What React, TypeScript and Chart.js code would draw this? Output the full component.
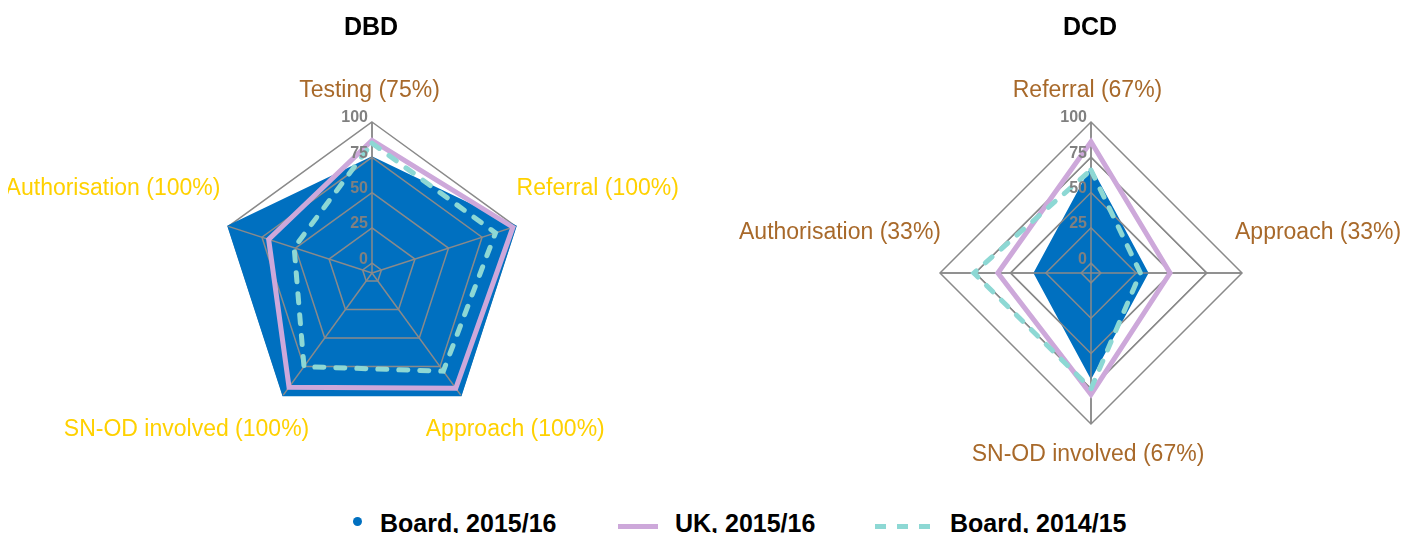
import React, { useEffect, useRef } from "react";
import { Chart, registerables } from "chart.js";

Chart.register(...registerables);

// ---------- data ----------
const seriesNames = ["Board, 2015/16", "UK, 2015/16", "Board, 2014/15"];
const chartTitles = ["DBD", "DCD"];
const tickValues = [0, 25, 50, 75, 100];

const dbdLabels = [
  "Testing (75%)",
  "Referral (100%)",
  "Approach (100%)",
  "SN-OD involved (100%)",
  "Authorisation (100%)",
];
const dbdBoard1516 = [75, 100, 100, 100, 100];
const dbdUK1516 = [87, 98, 94, 93, 70];
const dbdBoard1415 = [85, 85, 79, 75, 51];

const dcdLabels = [
  "Referral (67%)",
  "Approach (33%)",
  "SN-OD involved (67%)",
  "Authorisation (33%)",
];
const dcdBoard1516 = [67, 33, 67, 33];
const dcdUK1516 = [86, 49, 79, 59];
const dcdBoard1415 = [66, 28, 75, 76];

// ---------- styles ----------
const FONT = '"Liberation Sans", Arial, Helvetica, sans-serif';
const BLUE = "#0070C0";
const PURPLE = "#CDA8DA";
const CYAN = "#8DD8D4";
const GRID = "#8A8A8A";
const BROWN = "#A8692A";
const YELLOW = "#FFD100";

type Placement = { dx: number; dy: number; align: CanvasTextAlign };

const dbdPlacement: Placement[] = [
  { dx: -2.5, dy: -25, align: "center" },
  { dx: 1, dy: -31, align: "left" },
  { dx: -35, dy: 41, align: "left" },
  { dx: 26, dy: 41, align: "right" },
  { dx: -8, dy: -31, align: "right" },
];
const dbdLabelColors = [BROWN, YELLOW, YELLOW, YELLOW, YELLOW];

const dcdPlacement: Placement[] = [
  { dx: -3.5, dy: -25, align: "center" },
  { dx: -7, dy: -34, align: "left" },
  { dx: -3, dy: 37, align: "center" },
  { dx: 1, dy: -34, align: "right" },
];
const dcdLabelColors = [BROWN, BROWN, BROWN, BROWN];

type PanelProps = {
  title: string;
  labels: string[];
  board1516: number[];
  uk1516: number[];
  board1415: number[];
  placement: Placement[];
  labelColors: string[];
  left: number;
  width: number;
  height: number;
  padding: { left: number; right: number; top: number; bottom: number };
};

function RadarPanel(props: PanelProps) {
  const ref = useRef<HTMLCanvasElement>(null);
  useEffect(() => {
    const state = { overlay: false };
    const decor = {
      id: "decor",
      beforeDatasetDraw(chart: any, args: any) {
        if (args.index === 1) {
          const s = chart.scales.r;
          const ctx = chart.ctx;
          ctx.save();
          state.overlay = true;
          s.drawGrid();
          state.overlay = false;
          ctx.restore();
        }
      },
      afterDatasetsDraw(chart: any) {
        const s = chart.scales.r;
        const ctx = chart.ctx;
        ctx.save();
        ctx.font = `bold 16px ${FONT}`;
        ctx.fillStyle = "#808080";
        ctx.textAlign = "right";
        ctx.textBaseline = "middle";
        tickValues.forEach((v) => {
          const d = s.getDistanceFromCenterForValue(v);
          ctx.fillText(String(v), s.xCenter - 4, s.yCenter - d - 4);
        });
        ctx.restore();
      },
      afterDraw(chart: any) {
        const s = chart.scales.r;
        const ctx = chart.ctx;
        ctx.save();
        ctx.font = `bold 25px ${FONT}`;
        ctx.fillStyle = "#000";
        ctx.textAlign = "center";
        ctx.textBaseline = "alphabetic";
        ctx.fillText(props.title, s.xCenter - 1, 27);
        ctx.font = `23px ${FONT}`;
        props.labels.forEach((lab, i) => {
          const p = s.getPointPosition(i, s.drawingArea);
          const pl = props.placement[i];
          ctx.fillStyle = props.labelColors[i];
          ctx.textAlign = pl.align;
          ctx.fillText(lab, p.x + pl.dx, p.y + pl.dy);
        });
        ctx.restore();
      },
    };

    const chart = new Chart(ref.current!, {
      type: "radar",
      data: {
        labels: props.labels,
        datasets: [
          {
            label: seriesNames[0],
            data: props.board1516,
            backgroundColor: BLUE,
            borderColor: BLUE,
            borderWidth: 2,
            fill: "start",
            pointRadius: 0,
            order: 2,
          },
          {
            label: seriesNames[1],
            data: props.uk1516,
            borderColor: PURPLE,
            borderWidth: 5,
            fill: false,
            pointRadius: 0,
            borderJoinStyle: "miter",
            order: 1,
          },
          {
            label: seriesNames[2],
            data: props.board1415,
            borderColor: CYAN,
            borderWidth: 5,
            borderDash: [9, 12],
            borderCapStyle: "round",
            fill: false,
            pointRadius: 0,
            order: 0,
          },
        ],
      },
      options: {
        responsive: false,
        animation: false,
        events: [],
        layout: { padding: props.padding },
        elements: { line: { tension: 0 } },
        plugins: {
          legend: { display: false },
          title: { display: false },
          tooltip: { enabled: false },
        },
        scales: {
          r: {
            min: -7,
            max: 100,
            afterBuildTicks: (scale: any) => {
              scale.ticks = tickValues.map((v) => ({ value: v }));
            },
            ticks: { display: false },
            pointLabels: { display: false },
            grid: {
              color: (c: any) =>
                state.overlay && c.index === tickValues.length - 1
                  ? "rgba(0,0,0,0)"
                  : GRID,
              lineWidth: 1.5,
            },
            angleLines: { color: GRID, lineWidth: 1.5 },
          },
        },
      } as any,
      plugins: [decor],
    });
    return () => chart.destroy();
  }, []);
  return (
    <canvas
      ref={ref}
      width={props.width}
      height={props.height}
      style={{ position: "absolute", left: props.left, top: 0 }}
    />
  );
}

const legendText: React.CSSProperties = {
  position: "absolute",
  top: 503,
  fontFamily: FONT,
  fontWeight: "bold",
  fontSize: 25,
  lineHeight: "25px",
  color: "#000",
  whiteSpace: "nowrap",
};

export default function App() {
  return (
    <div style={{ position: "relative", width: 1402, height: 525 }}>
      <RadarPanel
        title={chartTitles[0]}
        labels={dbdLabels}
        board1516={dbdBoard1516}
        uk1516={dbdUK1516}
        board1415={dbdBoard1415}
        placement={dbdPlacement}
        labelColors={dbdLabelColors}
        left={0}
        width={710}
        height={480}
        padding={{ left: 213, right: 195, top: 114, bottom: 64 }}
      />
      <RadarPanel
        title={chartTitles[1]}
        labels={dcdLabels}
        board1516={dcdBoard1516}
        uk1516={dcdUK1516}
        board1415={dcdBoard1415}
        placement={dcdPlacement}
        labelColors={dcdLabelColors}
        left={720}
        width={682}
        height={480}
        padding={{ left: 212, right: 168, top: 114, bottom: 64 }}
      />
      {/* legend */}
      <div
        style={{
          position: "absolute",
          left: 345,
          top: 509,
          width: 9,
          height: 9,
          borderRadius: "50%",
          background: BLUE,
        }}
      />
      <div style={{ ...legendText, left: 372 }}>{seriesNames[0]}</div>
      <div
        style={{
          position: "absolute",
          left: 610,
          top: 516,
          width: 40,
          height: 5,
          background: PURPLE,
        }}
      />
      <div style={{ ...legendText, left: 667 }}>{seriesNames[1]}</div>
      {[867, 889, 911].map((x) => (
        <div
          key={x}
          style={{
            position: "absolute",
            left: x,
            top: 516,
            width: 11,
            height: 5,
            background: CYAN,
          }}
        />
      ))}
      <div style={{ ...legendText, left: 942 }}>{seriesNames[2]}</div>
    </div>
  );
}
